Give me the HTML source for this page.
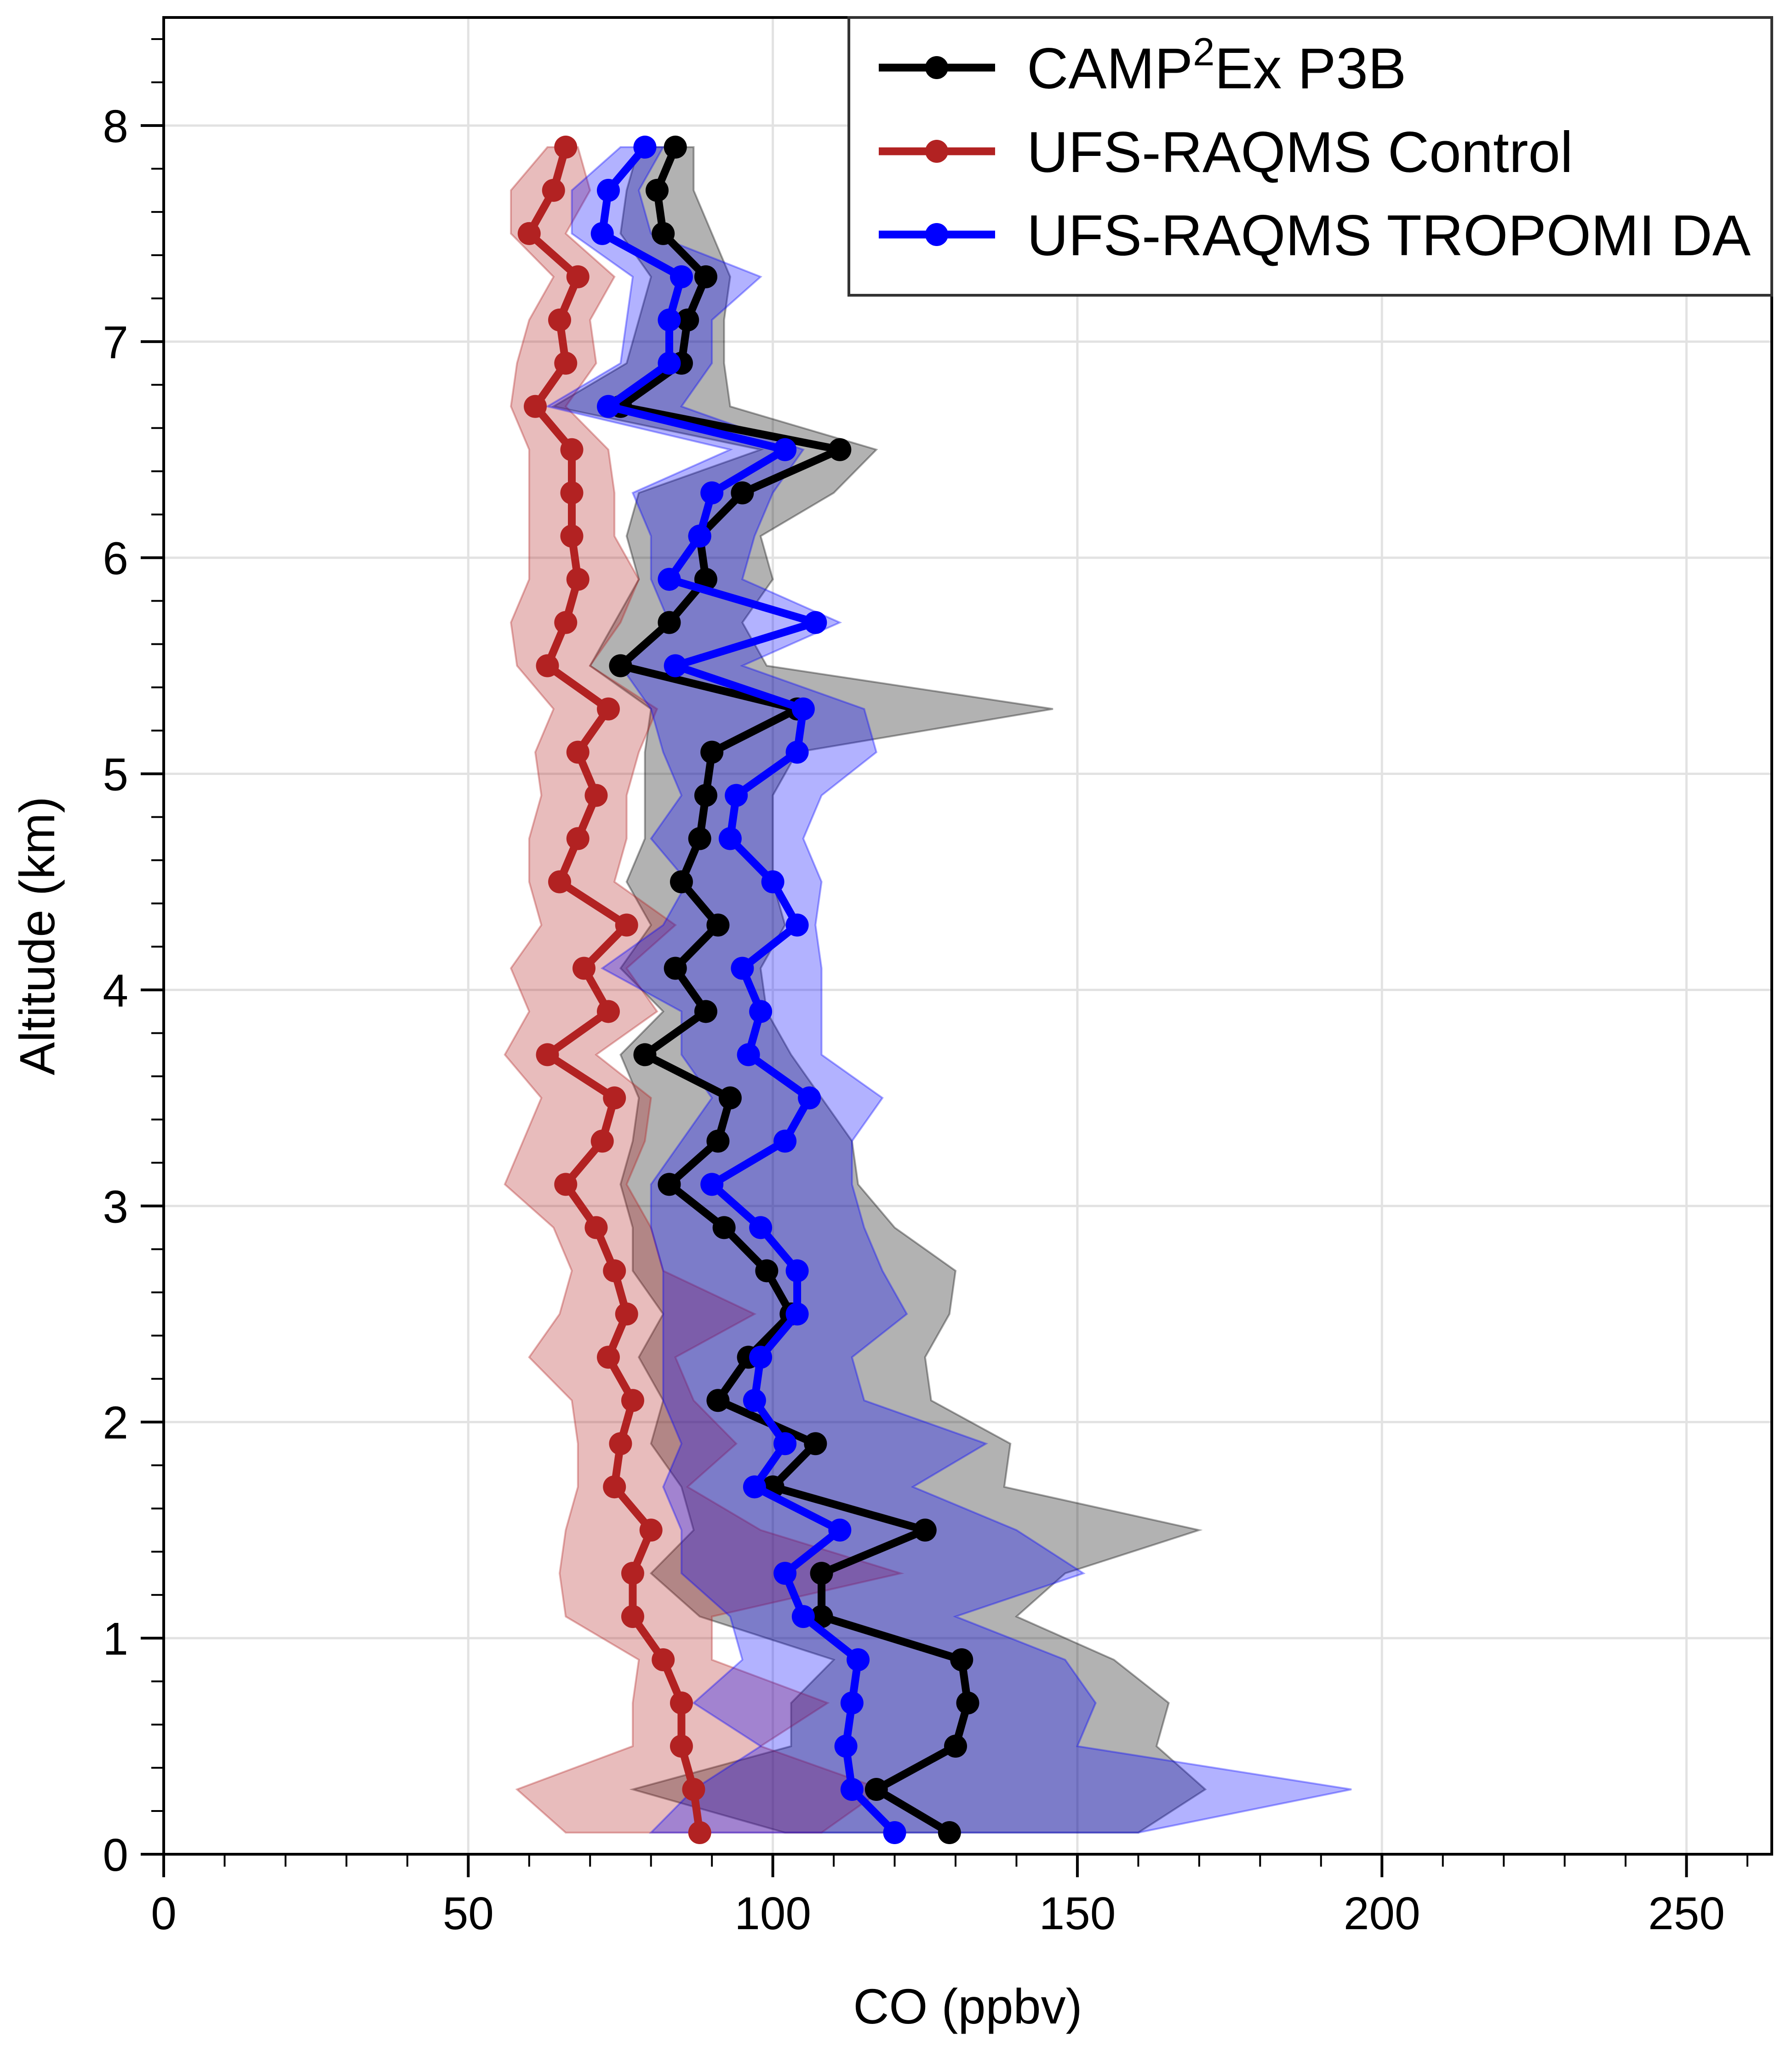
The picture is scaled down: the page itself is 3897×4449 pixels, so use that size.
<!DOCTYPE html>
<html><head><meta charset="utf-8"><style>
html,body{margin:0;padding:0;background:#fff;}
svg{display:block;font-family:"Liberation Sans",Arial,sans-serif;}
</style></head><body>
<svg id="chart" xmlns="http://www.w3.org/2000/svg" width="3897" height="4449" viewBox="0 0 3897 4449">
<g id="grid"></g>
<g id="bands"></g>
<g id="series"></g>
<g id="axes"></g>
<g id="legend"></g>
</svg>
<script>
const altitudes=[0.1,0.3,0.5,0.7,0.9,1.1,1.3,1.5,1.7,1.9,2.1,2.3,2.5,2.7,2.9,3.1,3.3,3.5,3.7,3.9,4.1,4.3,4.5,4.7,4.9,5.1,5.3,5.5,5.7,5.9,6.1,6.3,6.5,6.7,6.9,7.1,7.3,7.5,7.7,7.9];
const campMean=[129,117,130,132,131,108,108,125,100,107,91,96,103,99,92,83,91,93,79,89,84,91,85,88,89,90,104,75,83,89,88,95,111,75,85,86,89,82,81,84];
const campLo=[102,77,103,103,110,88,80,87,85,80,82,78,82,77,77,75,77,78,75,82,75,80,76,79,79,79,80,70,74,78,76,78,98,64,76,78,80,75,76,78];
const campHi=[160,171,163,165,156,140,148,170,138,139,126,125,129,130,120,114,113,108,103,99,98,102,100,100,100,104,146,99,95,100,98,110,117,93,92,92,93,90,87,87];
const daMean=[120,113,112,113,114,105,102,111,97,102,97,98,104,104,98,90,102,106,96,98,95,104,100,93,94,104,105,84,107,83,88,90,102,73,83,83,85,72,73,79];
const daLo=[80,87,98,87,95,93,85,85,82,85,82,82,82,82,80,80,85,90,85,85,72,82,86,80,85,82,80,75,83,80,80,77,93,63,75,76,77,67,67,75];
const daHi=[160,195,150,153,148,130,151,140,123,135,115,113,122,118,115,113,113,118,108,108,108,107,108,105,108,117,115,95,111,95,97,100,105,85,90,90,98,80,78,82];
const ctlMean=[88,87,85,85,82,77,77,80,74,75,77,73,76,74,71,66,72,74,63,73,69,76,65,68,71,68,73,63,66,68,67,67,67,61,66,65,68,60,64,66];
const ctlLo=[66,58,77,77,78,66,65,66,68,68,67,60,65,67,64,56,59,62,56,60,57,62,60,60,62,61,64,58,57,60,60,60,60,57,58,60,64,57,57,63];
const ctlHi=[108,118,98,109,90,90,121,98,86,94,87,84,97,82,80,76,79,80,71,81,76,84,74,76,76,78,81,70,75,78,74,74,73,66,71,70,74,66,70,68];
const xTicks=[0,50,100,150,200,250];
const yTicks=[0,1,2,3,4,5,6,7,8];

const NS="http://www.w3.org/2000/svg";
const L=356,R=3853,T=38,B=4032,XMAX=264,YMAX=8.5;
const sx=v=>L+(R-L)*v/XMAX;
const sy=v=>B-(B-T)*v/YMAX;
function mk(tag,attrs,parent){const e=document.createElementNS(NS,tag);for(const k in attrs)e.setAttribute(k,attrs[k]);parent.appendChild(e);return e;}
const grid=document.getElementById('grid'),bands=document.getElementById('bands'),series=document.getElementById('series'),axes=document.getElementById('axes'),legend=document.getElementById('legend');

xTicks.forEach(t=>{if(t===0)return;const g=mk('line',{x1:sx(t),x2:sx(t),y1:T,y2:B,stroke:'#e2e2e2','stroke-width':5},grid);

});
yTicks.forEach(t=>{if(t===0)return;const g=mk('line',{x1:L,x2:R,y1:sy(t),y2:sy(t),stroke:'#e2e2e2','stroke-width':5},grid);

});

function band(lo,hi,fill,stroke,name){
  let pts=altitudes.map((a,i)=>sx(hi[i])+','+sy(a));
  for(let i=altitudes.length-1;i>=0;i--)pts.push(sx(lo[i])+','+sy(altitudes[i]));
  const p=mk('polygon',{points:pts.join(' '),fill:fill,'fill-opacity':0.3,stroke:stroke,'stroke-opacity':0.35,'stroke-width':4},bands);
  
  
}
band(campLo,campHi,'#000000','#000000','camp-band');
band(ctlLo,ctlHi,'#b22222','#b22222','control-band');
band(daLo,daHi,'#0000ff','#0000ff','tropomi-da-band');

function line(mean,color,name){
  const g=mk('g',{},series);
  
  
  const pl=mk('polyline',{points:altitudes.map((a,i)=>sx(mean[i])+','+sy(a)).join(' '),fill:'none',stroke:color,'stroke-width':17,'stroke-linejoin':'round'},g);
  
  
  altitudes.forEach((a,i)=>{const c=mk('circle',{cx:sx(mean[i]),cy:sy(a),r:25,fill:color},g);
  
  });
}
line(ctlMean,'#b22222','control');
line(campMean,'#000000','camp');
line(daMean,'#0000ff','tropomi-da');

// axes frame
const fr=mk('rect',{x:L,y:T,width:R-L,height:B-T,fill:'none',stroke:'#000','stroke-width':6},axes);


for(let v=0;v<=XMAX;v+=10){const maj=v%50===0;const t=mk('line',{x1:sx(v),x2:sx(v),y1:B,y2:B+(maj?50:27),stroke:'#000','stroke-width':maj?6:4},axes);

}
for(let k=0;k<=42;k++){const v=k*0.2;const maj=k%5===0;const t=mk('line',{x1:L,x2:L-(maj?50:27),y1:sy(v),y2:sy(v),stroke:'#000','stroke-width':maj?6:4},axes);

}
xTicks.forEach(t=>{const e=mk('text',{x:sx(t),y:B+163,'font-size':100,'text-anchor':'middle'},axes);e.textContent=t;

});
yTicks.forEach(t=>{const e=mk('text',{x:L-77,y:sy(t)+36,'font-size':100,'text-anchor':'end'},axes);e.textContent=t;

});
const xl=mk('text',{x:(L+R)/2,y:4400,'font-size':108,'text-anchor':'middle'},axes);xl.textContent='CO (ppbv)';


const yl=mk('text',{x:0,y:0,'font-size':108,'text-anchor':'middle',transform:'translate(118,'+((T+B)/2)+') rotate(-90)'},axes);yl.textContent='Altitude (km)';



// legend
const lb=mk('rect',{x:1846,y:38,width:2007,height:604,fill:'#fff',stroke:'#333','stroke-width':6},legend);


const entries=[['CAMP','#000000',147,'legend-entry-camp'],['UFS-RAQMS Control','#b22222',329,'legend-entry-control'],['UFS-RAQMS TROPOMI DA','#0000ff',510,'legend-entry-tropomi-da']];
entries.forEach(en=>{
  const g=mk('g',{},legend);
  
  
  mk('line',{x1:1911,x2:2164,y1:en[2],y2:en[2],stroke:en[1],'stroke-width':17},g);
  mk('circle',{cx:2037,cy:en[2],r:25,fill:en[1]},g);
  const t=mk('text',{x:2233,y:en[2]+45,'font-size':125},g);
  if(en[0]==='CAMP'){t.innerHTML='CAMP<tspan dy="-50" font-size="85">2</tspan><tspan dy="50">Ex P3B</tspan>';}
  else t.textContent=en[0];
});
</script>
</body></html>
